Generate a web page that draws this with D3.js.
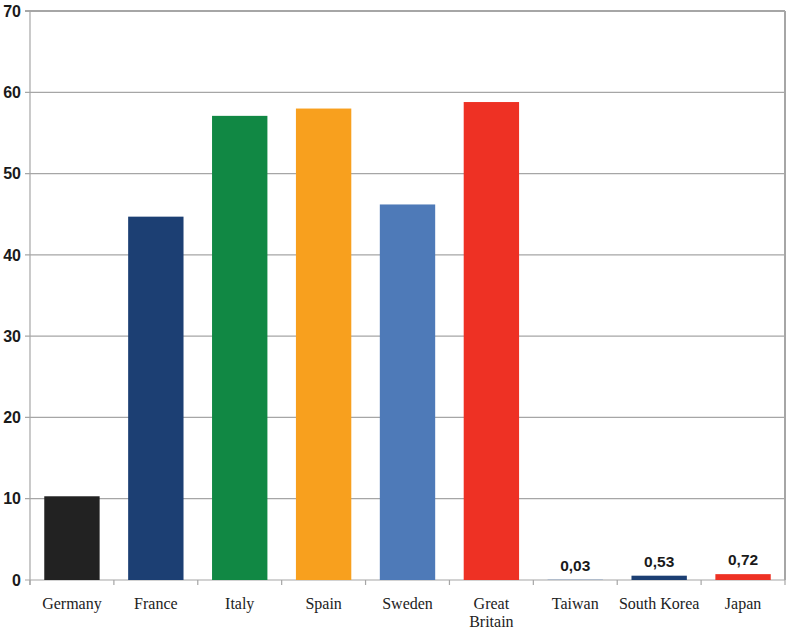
<!DOCTYPE html>
<html>
<head>
<meta charset="utf-8">
<script src="https://cdnjs.cloudflare.com/ajax/libs/d3/7.8.5/d3.min.js"></script>
<style>
  body { margin: 0; background: #fff; }
  .ytick text { font-family: "Liberation Sans", Arial, sans-serif; font-weight: bold; font-size: 16px; fill: #1a1a1a; }
  .xlab { font-family: "Liberation Serif", "Times New Roman", serif; font-size: 16px; fill: #222; }
  .val { font-family: "Liberation Sans", Arial, sans-serif; font-weight: bold; font-size: 15.5px; fill: #1a1a1a; }
</style>
</head>
<body>
<div id="chart"></div>
<script>
var countries = ["Germany", "France", "Italy", "Spain", "Sweden", "Great Britain", "Taiwan", "South Korea", "Japan"];
var values = [10.3, 44.7, 57.1, 58.0, 46.2, 58.8, 0.03, 0.53, 0.72];
var colors = ["#222222", "#1c3f73", "#118844", "#f8a01e", "#4e7ab8", "#ee3124", "#4e7ab8", "#1c3f73", "#ee3124"];
var labelled = ["Taiwan", "South Korea", "Japan"];
var yTicks = [0, 10, 20, 30, 40, 50, 60, 70];

var width = 787, height = 630;
var margin = { top: 11, right: 2, bottom: 50, left: 30 };

var svg = d3.select("#chart").append("svg")
    .attr("width", width)
    .attr("height", height);

var x = d3.scaleBand()
    .domain(countries)
    .range([margin.left, width - margin.right])
    .paddingInner(0.34)
    .paddingOuter(0.17);

var y = d3.scaleLinear()
    .domain([0, 70])
    .range([height - margin.bottom, margin.top]);

// gridlines + y ticks
var yt = svg.append("g").selectAll("g")
    .data(yTicks)
    .enter().append("g")
    .attr("class", "ytick");

yt.append("line")
    .attr("x1", margin.left - 5)
    .attr("x2", width - margin.right)
    .attr("y1", function(d) { return y(d); })
    .attr("y2", function(d) { return y(d); })
    .attr("stroke", "#a6a6a6")
    .attr("stroke-width", function(d) { return d == 70 ? 2 : 1.2; });

yt.append("text")
    .attr("x", margin.left - 9)
    .attr("y", function(d) { return y(d); })
    .attr("dy", "0.36em")
    .attr("text-anchor", "end")
    .text(function(d) { return d; });

// left axis and right border
svg.append("line")
    .attr("x1", margin.left).attr("x2", margin.left)
    .attr("y1", y(70)).attr("y2", y(0) + 5)
    .attr("stroke", "#a6a6a6").attr("stroke-width", 1.2);
svg.append("line")
    .attr("x1", width - margin.right).attr("x2", width - margin.right)
    .attr("y1", y(70)).attr("y2", y(0))
    .attr("stroke", "#a6a6a6").attr("stroke-width", 2);

// bottom category ticks
var step = x.step();
var bounds = countries.map(function(c) { return x(c) - x.paddingInner() * step / 2; });
bounds.push(width - margin.right);
svg.append("g").selectAll("line")
    .data(bounds)
    .enter().append("line")
    .attr("x1", function(d) { return d; })
    .attr("x2", function(d) { return d; })
    .attr("y1", y(0))
    .attr("y2", y(0) + 5)
    .attr("stroke", "#a6a6a6")
    .attr("stroke-width", 1.2);

// bars
svg.append("g").selectAll("rect")
    .data(countries)
    .enter().append("rect")
    .attr("x", function(d) { return x(d); })
    .attr("y", function(d, i) { return y(values[i]); })
    .attr("width", x.bandwidth())
    .attr("height", function(d, i) { return y(0) - y(values[i]); })
    .attr("fill", function(d, i) { return colors[i]; });

// value labels for the small bars
svg.append("g").selectAll("text")
    .data(labelled)
    .enter().append("text")
    .attr("class", "val")
    .attr("x", function(d) { return x(d) + x.bandwidth() / 2; })
    .attr("y", function(d) { return y(values[countries.indexOf(d)]) - 9; })
    .attr("text-anchor", "middle")
    .text(function(d) { return values[countries.indexOf(d)].toFixed(2).replace(".", ","); });

// category labels
var xl = svg.append("g").selectAll("text")
    .data(countries)
    .enter().append("text")
    .attr("class", "xlab")
    .attr("x", function(d) { return x(d) + x.bandwidth() / 2; })
    .attr("y", 609)
    .attr("text-anchor", "middle");

xl.each(function(d) {
    var words = d == "Great Britain" ? ["Great", "Britain"] : [d];
    var t = d3.select(this);
    words.forEach(function(w, k) {
        t.append("tspan")
            .attr("x", x(d) + x.bandwidth() / 2)
            .attr("dy", k == 0 ? 0 : 18)
            .text(w);
    });
});
</script>
</body>
</html>
